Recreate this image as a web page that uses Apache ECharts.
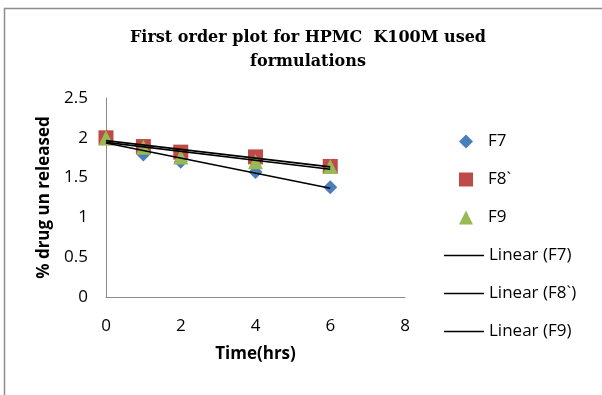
<!DOCTYPE html>
<html>
<head>
<meta charset="utf-8">
<script src="https://cdn.jsdelivr.net/npm/echarts@6/dist/echarts.min.js"></script>
<style>
html,body{margin:0;padding:0;background:#fff;}
#chart{width:602px;height:395px;}
</style>
</head>
<body>
<div id="chart"></div>
<script>
// Sampling times (hours)
const times = [0, 1, 2, 4, 6];
// log % drug unreleased per formulation
const f7 = [2.0, 1.79, 1.70, 1.57, 1.38];
const f8 = [2.0, 1.89, 1.82, 1.76, 1.64];
const f9 = [2.0, 1.88, 1.76, 1.70, 1.64];
const yTicks = [0, 0.5, 1, 1.5, 2, 2.5];
const xTicks = [0, 2, 4, 6, 8];

// Least-squares fit, drawn over the sampled time range
function trend(ys) {
  const n = times.length;
  const mx = times.reduce((a, b) => a + b, 0) / n;
  const my = ys.reduce((a, b) => a + b, 0) / n;
  let sxy = 0, sxx = 0;
  times.forEach((x, i) => { sxy += (x - mx) * (ys[i] - my); sxx += (x - mx) * (x - mx); });
  const b = sxy / sxx, a = my - b * mx;
  const x0 = times[0], x1 = times[n - 1];
  return [[x0, a + b * x0], [x1, a + b * x1]];
}
const pts = ys => times.map((t, i) => [t, ys[i]]);

const labelFont = '"Open Sans", "Liberation Sans", sans-serif';
const chart = echarts.init(document.getElementById('chart'), null, {renderer: 'canvas'});

const trendStyle = {color: '#000', width: 1.6};
const legendText = {fontFamily: labelFont, fontSize: 17, color: '#000'};
// thin horizontal bar used as the trendline legend key
const lineIcon = 'path://M0,0H40V1.4H0Z';
chart.setOption({
  animation: false,
  backgroundColor: '#fff',
  title: {
    text: 'First order plot for HPMC  K100M used\nformulations',
    left: 303, top: 21, textAlign: 'center',
    textStyle: {fontFamily: '"DejaVu Serif", "Liberation Serif", serif', fontWeight: 'bold', fontSize: 16, lineHeight: 24, color: '#000'}
  },
  graphic: [{
    type: 'polyline',
    shape: {points: [[4.5, 395], [4.5, 8.5], [602, 8.5]]},
    style: {stroke: '#8c8c8c', lineWidth: 1.5, fill: null},
    silent: true
  }],
  legend: [{
    orient: 'vertical', left: 454, top: 128,
    itemWidth: 14, itemHeight: 14, itemGap: 21,
    textStyle: Object.assign({padding: [0, 0, 0, 10]}, legendText),
    data: [
      {name: 'F7', icon: 'diamond'},
      {name: 'F8`', icon: 'rect'},
      {name: 'F9', icon: 'triangle'}
    ]
  }, {
    orient: 'vertical', left: 439, top: 242,
    itemWidth: 40, itemHeight: 14, itemGap: 21,
    textStyle: legendText,
    itemStyle: {color: '#000'},
    data: [
      {name: 'Linear (F7)', icon: lineIcon},
      {name: 'Linear (F8`)', icon: lineIcon},
      {name: 'Linear (F9)', icon: lineIcon}
    ]
  }],
  grid: {left: 106, top: 98, right: 197, bottom: 98},
  xAxis: {
    type: 'value', min: xTicks[0], max: xTicks[xTicks.length - 1], interval: 2,
    name: 'Time(hrs)', nameLocation: 'middle', nameGap: 49,
    nameTextStyle: {fontFamily: labelFont, fontWeight: 'bold', fontSize: 17, color: '#000'},
    axisLine: {lineStyle: {color: '#8c8c8c', width: 1}},
    axisTick: {show: false},
    splitLine: {show: false},
    axisLabel: {fontFamily: labelFont, fontSize: 17, color: '#000', margin: 21}
  },
  yAxis: {
    type: 'value', min: yTicks[0], max: yTicks[yTicks.length - 1], interval: 0.5,
    name: '% drug un released', nameLocation: 'middle', nameGap: 53, nameRotate: 90,
    nameTextStyle: {fontFamily: labelFont, fontWeight: 'bold', fontSize: 17, color: '#000'},
    axisLine: {show: true, lineStyle: {color: '#8c8c8c', width: 1}},
    axisTick: {show: false},
    splitLine: {show: false},
    axisLabel: {fontFamily: labelFont, fontSize: 17, color: '#000', margin: 18}
  },
  series: [
    {name: 'F7', type: 'scatter', symbol: 'diamond', symbolSize: 14, data: pts(f7), itemStyle: {color: '#4a7ebb', opacity: 1}, z: 2},
    {name: 'F8`', type: 'scatter', symbol: 'rect', symbolSize: 15, data: pts(f8), itemStyle: {color: '#be4b48', opacity: 1}, z: 3},
    {name: 'F9', type: 'scatter', symbol: 'triangle', symbolSize: 15, data: pts(f9), itemStyle: {color: '#98b954', opacity: 1}, z: 4},
    {name: 'Linear (F7)', type: 'line', data: trend(f7), showSymbol: false, symbol: 'none', symbolKeepAspect: true, lineStyle: trendStyle, itemStyle: {color: '#000'}, z: 5},
    {name: 'Linear (F8`)', type: 'line', data: trend(f8), showSymbol: false, symbol: 'none', symbolKeepAspect: true, lineStyle: trendStyle, itemStyle: {color: '#000'}, z: 5},
    {name: 'Linear (F9)', type: 'line', data: trend(f9), showSymbol: false, symbol: 'none', symbolKeepAspect: true, lineStyle: trendStyle, itemStyle: {color: '#000'}, z: 5}
  ]
});
</script>
</body>
</html>
